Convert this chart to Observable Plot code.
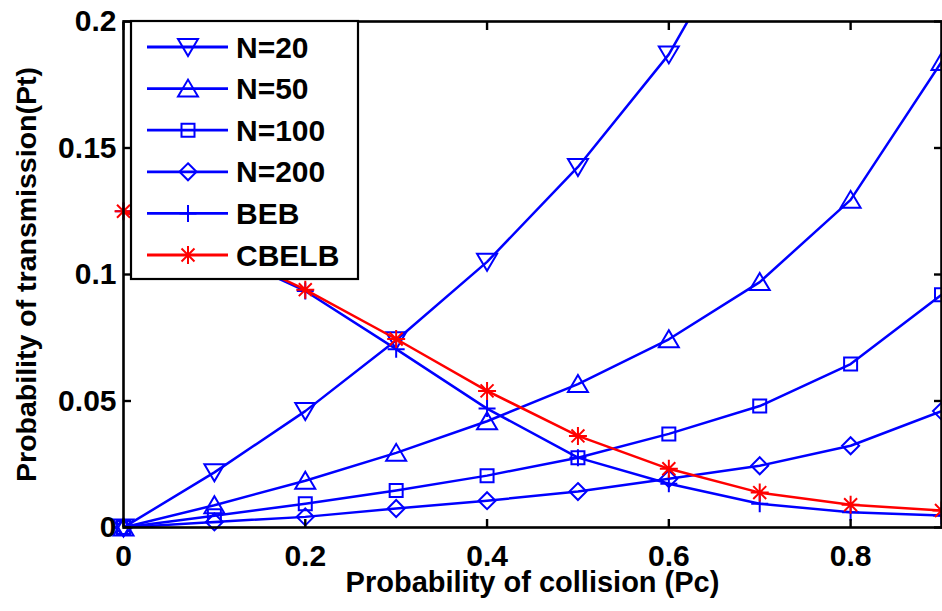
<!DOCTYPE html>
<html>
<head>
<meta charset="utf-8">
<script src="https://cdn.jsdelivr.net/npm/d3@7"></script>
<script src="https://cdn.jsdelivr.net/npm/@observablehq/plot@0.6"></script>
<style>
  html, body { margin: 0; padding: 0; background: #fff; }
  #chart { width: 942px; height: 611px; overflow: hidden; }
  #chart svg { overflow: hidden; }
</style>
</head>
<body>
<div id="chart"></div>
<script>
// ---- data ----
const pc = [0, 0.1, 0.2, 0.3, 0.4, 0.5, 0.6, 0.7, 0.8, 0.9];
const seriesNames = ["N=20", "N=50", "N=100", "N=200", "BEB", "CBELB"];
const ptN20  = [0, 0.0218, 0.046, 0.0740, 0.1050, 0.1425, 0.1870, 0.250, 0.330, 0.440];
const ptN50  = [0, 0.0088, 0.0185, 0.0295, 0.0420, 0.0567, 0.0744, 0.0970, 0.1295, 0.1840];
const ptN100 = [0, 0.0046, 0.0094, 0.0146, 0.0205, 0.0276, 0.0370, 0.0480, 0.0646, 0.0920];
const ptN200 = [0, 0.0022, 0.0042, 0.0075, 0.0106, 0.0142, 0.0193, 0.0244, 0.0323, 0.0460];
const ptBEB  = [0.125, 0.110, 0.0935, 0.0705, 0.0470, 0.0276, 0.0173, 0.0094, 0.0060, 0.0047];
const ptCBELB= [0.125, 0.111, 0.0940, 0.0745, 0.0540, 0.0362, 0.0232, 0.0138, 0.0090, 0.0067];
const seriesColors = ["#0000ff", "#0000ff", "#0000ff", "#0000ff", "#0000ff", "#ff0000"];
const xTicks = [0, 0.2, 0.4, 0.6, 0.8];
const yTicks = [0, 0.05, 0.1, 0.15, 0.2];
const xDomain = [0, 0.9];
const yDomain = [0, 0.2];
const xLabel = "Probability of collision (Pc)";
const yLabel = "Probability of transmission(Pt)";

// ---- MATLAB-like marker shapes ----
const rOf = size => Math.sqrt(size / Math.PI);
const symTriDown = { draw(c, s) { const r = rOf(s); c.moveTo(-r, -0.8*r); c.lineTo(r, -0.8*r); c.lineTo(0, 0.9*r); c.closePath(); } };
const symTriUp   = { draw(c, s) { const r = rOf(s); c.moveTo(-r, 0.8*r); c.lineTo(r, 0.8*r); c.lineTo(0, -0.9*r); c.closePath(); } };
const symSquare  = { draw(c, s) { const r = rOf(s); c.moveTo(-r, -r); c.lineTo(r, -r); c.lineTo(r, r); c.lineTo(-r, r); c.closePath(); } };
const symDiamond = { draw(c, s) { const r = rOf(s); c.moveTo(0, -r); c.lineTo(r, 0); c.lineTo(0, r); c.lineTo(-r, 0); c.closePath(); } };
const symPlus    = { draw(c, s) { const r = rOf(s); c.moveTo(-r, 0); c.lineTo(r, 0); c.moveTo(0, -r); c.lineTo(0, r); } };
const symStar    = { draw(c, s) { const r = rOf(s); const d = r * 0.72;
  c.moveTo(-r, 0); c.lineTo(r, 0); c.moveTo(0, -r); c.lineTo(0, r);
  c.moveTo(-d, -d); c.lineTo(d, d); c.moveTo(-d, d); c.lineTo(d, -d); } };
const symbols = [symTriDown, symTriUp, symSquare, symDiamond, symPlus, symStar];
const radii = [10, 10, 6.5, 8.5, 8.5, 9];

const values = [ptN20, ptN50, ptN100, ptN200, ptBEB, ptCBELB];
const rows = seriesNames.map((s, i) => pc.map((x, j) => ({series: s, x, y: values[i][j]})));

const FONT = "'Liberation Sans', Arial, Helvetica, sans-serif";

const marks = [];
rows.forEach((d, i) => {
  marks.push(Plot.line(d, {x: "x", y: "y", stroke: seriesColors[i], strokeWidth: 2.5, clip: true}));
  marks.push(Plot.dot(d, {x: "x", y: "y", symbol: symbols[i], r: radii[i], stroke: seriesColors[i],
    strokeWidth: 2, fill: "none", filter: p => p.y <= yDomain[1]}));
});

const chart = Plot.plot({
  width: 942,
  height: 611,
  marginLeft: 123,
  marginRight: 1,
  marginTop: 21,
  marginBottom: 84,
  style: {fontFamily: FONT, fontSize: "30px", fontWeight: "bold", color: "#000", background: "#fff"},
  x: {domain: xDomain, ticks: xTicks},
  y: {domain: yDomain, ticks: yTicks},
  marks: [
    ...marks,
    Plot.frame({stroke: "#000", strokeWidth: 2.6}),
    Plot.axisX({anchor: "bottom", ticks: xTicks, tickSize: -8, tickPadding: 25, strokeWidth: 2.4,
      fontSize: 30, tickFormat: d => String(d), label: null}),
    Plot.axisX({anchor: "top", ticks: xTicks, tickSize: -8, strokeWidth: 2.4, tickFormat: () => "", label: null}),
    Plot.axisY({anchor: "left", ticks: yTicks, tickSize: -8, tickPadding: 15, strokeWidth: 2.4,
      fontSize: 30, tickFormat: d => String(d), label: null}),
    Plot.axisY({anchor: "right", ticks: yTicks, tickSize: -8, strokeWidth: 2.4, tickFormat: () => "", label: null}),
    Plot.text([xLabel], {text: d => d, frameAnchor: "bottom", textAnchor: "middle", dy: 64, fontSize: 29, fontWeight: "bold"}),
    Plot.text([yLabel], {text: d => d, frameAnchor: "left", textAnchor: "middle", rotate: -90, dx: -97, fontSize: 28.5, fontWeight: "bold"})
  ]
});
document.getElementById("chart").appendChild(chart);

// ---- legend (MATLAB style box, drawn over the lines) ----
const svg = d3.select(chart);
const lg = svg.append("g").attr("class", "legend");
lg.append("rect").attr("x", 131).attr("y", 21).attr("width", 227).attr("height", 258)
  .attr("fill", "#fff").attr("stroke", "#000").attr("stroke-width", 2.2);
seriesNames.forEach((name, i) => {
  const cy = 47 + i * 41.6;
  lg.append("line").attr("x1", 147).attr("x2", 228).attr("y1", cy).attr("y2", cy)
    .attr("stroke", seriesColors[i]).attr("stroke-width", 2.8);
  lg.append("path").attr("transform", `translate(188,${cy})`)
    .attr("d", d3.symbol(symbols[i], Math.PI * radii[i] * radii[i])())
    .attr("fill", "none").attr("stroke", seriesColors[i]).attr("stroke-width", 2);
  lg.append("text").attr("x", 236).attr("y", cy + 10.5).text(name)
    .attr("text-anchor", "start")
    .attr("font-family", FONT).attr("font-size", 30).attr("font-weight", "bold").attr("fill", "#000");
});
</script>
</body>
</html>
